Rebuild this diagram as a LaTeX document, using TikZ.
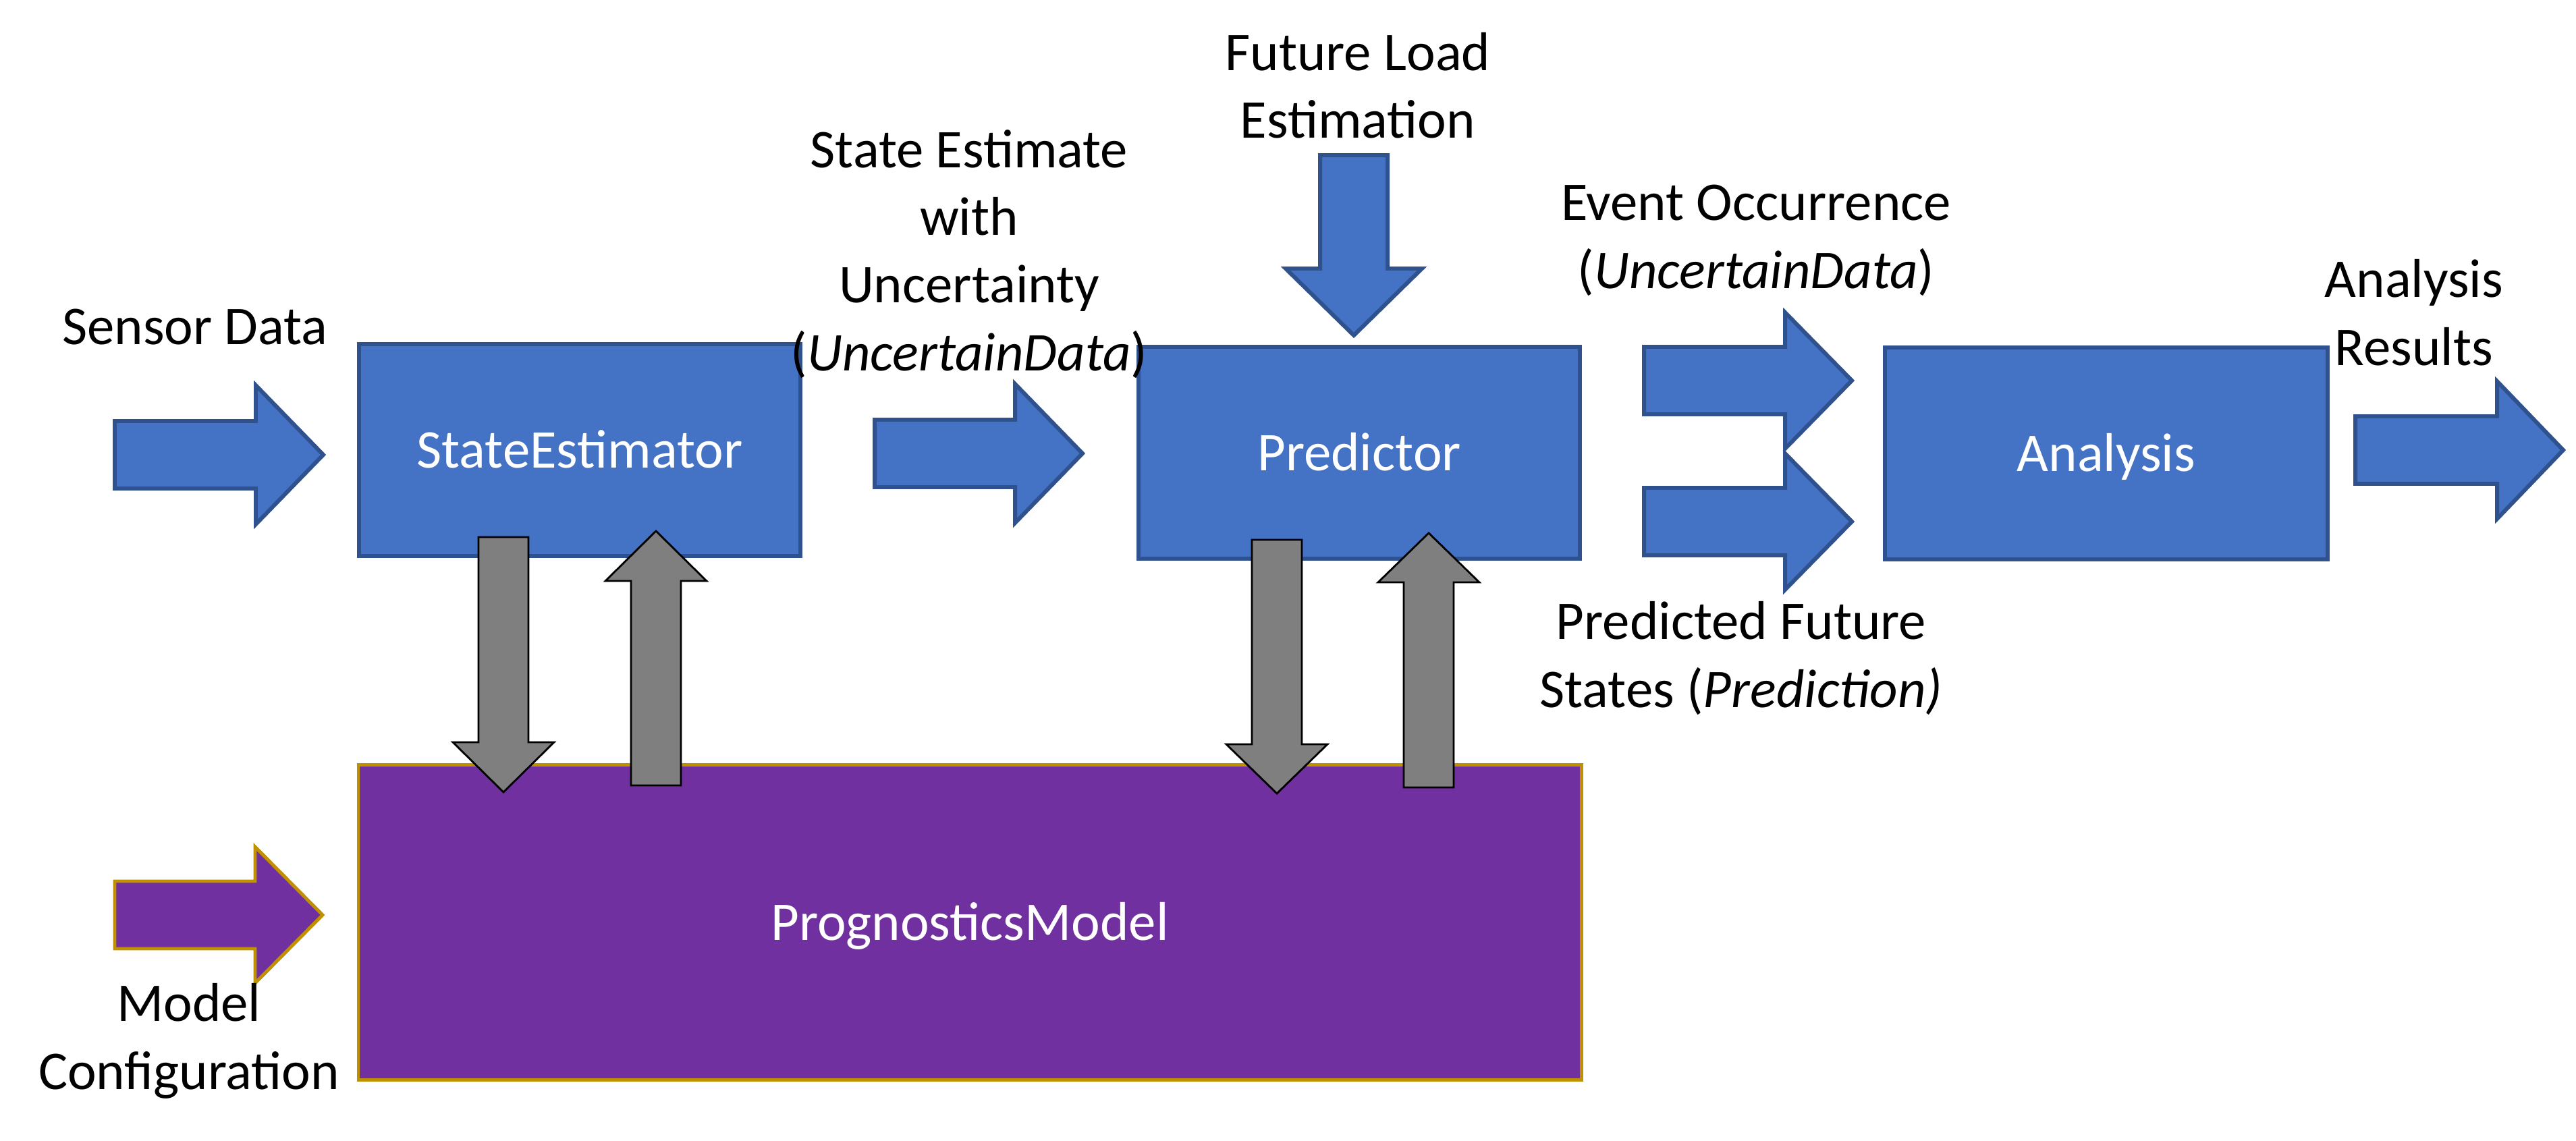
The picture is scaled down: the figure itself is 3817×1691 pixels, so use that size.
\documentclass[tikz,border=0pt]{standalone}
\usepackage{fontspec}
\setmainfont{Carlito}
\usetikzlibrary{positioning}

\definecolor{boxblue}{HTML}{4472C4}
\definecolor{lineblue}{HTML}{2F528F}
\definecolor{boxpurple}{HTML}{7030A0}
\definecolor{linegold}{HTML}{BF9000}
\definecolor{arrowgray}{HTML}{7F7F7F}

% block arrow pointing right: style, x start, x head base, x tip, y centre, shaft half, head half
\newcommand{\rightblock}[7]{%
\draw[#1] (#2,#5-#6) -- (#3,#5-#6) -- (#3,#5-#7) -- (#4,#5) -- (#3,#5+#7) -- (#3,#5+#6) -- (#2,#5+#6) -- cycle;}
% block arrow up or down: style, x centre, y start, y head base, y tip, shaft half, head half
\newcommand{\vertblock}[7]{%
\draw[#1] (#2-#6,#3) -- (#2-#6,#4) -- (#2-#7,#4) -- (#2,#5) -- (#2+#7,#4) -- (#2+#6,#4) -- (#2+#6,#3) -- cycle;}

\begin{document}
\begin{tikzpicture}[x=0.01cm,y=-0.01cm,
  txt/.style={font=\fontsize{23pt}{28.5pt}\selectfont,inner sep=0pt},
  lbl/.style={txt,align=center,anchor=base},
  block/.style={txt,shape=rectangle,text=white,text height=14.8pt,text depth=0pt,line width=1.7pt},
  blockB/.style={block,fill=boxblue,draw=lineblue},
  blockP/.style={block,fill=boxpurple,draw=linegold,line width=1.4pt},
  flowB/.style={fill=boxblue,draw=lineblue,line width=1.7pt},
  flowP/.style={fill=boxpurple,draw=linegold,line width=1.4pt},
  flowG/.style={fill=arrowgray,draw=black,line width=0.8pt}]
\useasboundingbox (0,0) rectangle (3817,1691);

% input and output arrows
\rightblock{flowB}{170}{379}{479}{674}{50}{103}
\rightblock{flowB}{1296}{1504}{1604}{672}{50}{103}
\rightblock{flowB}{2436}{2645}{2744}{564}{50}{101}
\rightblock{flowB}{2436}{2645}{2744}{773}{50}{101}
\rightblock{flowB}{3490}{3700}{3798}{667}{50}{102}
\rightblock{flowP}{170}{378}{478}{1356}{50}{101}
\vertblock{flowB}{2006}{230}{398}{497}{50}{101}

% boxes
\node[blockB,minimum width=6.54cm,minimum height=3.13cm] (est) at (859,667) {StateEstimator};
\node[blockB,minimum width=6.53cm,minimum height=3.13cm] (pred) at (2014,671) {Predictor};
\node[blockB,minimum width=6.56cm,minimum height=3.13cm] (ana) at (3121,672) {Analysis};
\node[blockP,minimum width=18.11cm,minimum height=4.66cm] (model) at (1437,1367) {PrognosticsModel};

% calls to the model
\vertblock{flowG}{746}{796}{1100}{1174}{37}{75}
\vertblock{flowG}{972}{1164}{861}{787}{37}{75}
\vertblock{flowG}{1892}{800}{1103}{1176}{37}{75}
\vertblock{flowG}{2117}{1167}{863}{790}{37}{75}

% labels (anchored at the last line)
\node[lbl] (sensor) at (289,510) {Sensor Data};
\node[lbl] (state) at (1436,549) {State Estimate\\with\\Uncertainty\\(\textit{UncertainData})};
\node[lbl] (load) at (2012,205) {Future Load\\Estimation};
\node[lbl] (event) at (2602,427) {Event Occurrence\\(\textit{UncertainData})};
\node[lbl] (future) at (2580,1048) {Predicted Future\\States (\textit{Prediction)}};
\node[lbl] (results) at (3577,541) {Analysis\\Results};
\node[lbl] (config) at (280,1614) {Model\\Configuration};
\end{tikzpicture}
\end{document}
